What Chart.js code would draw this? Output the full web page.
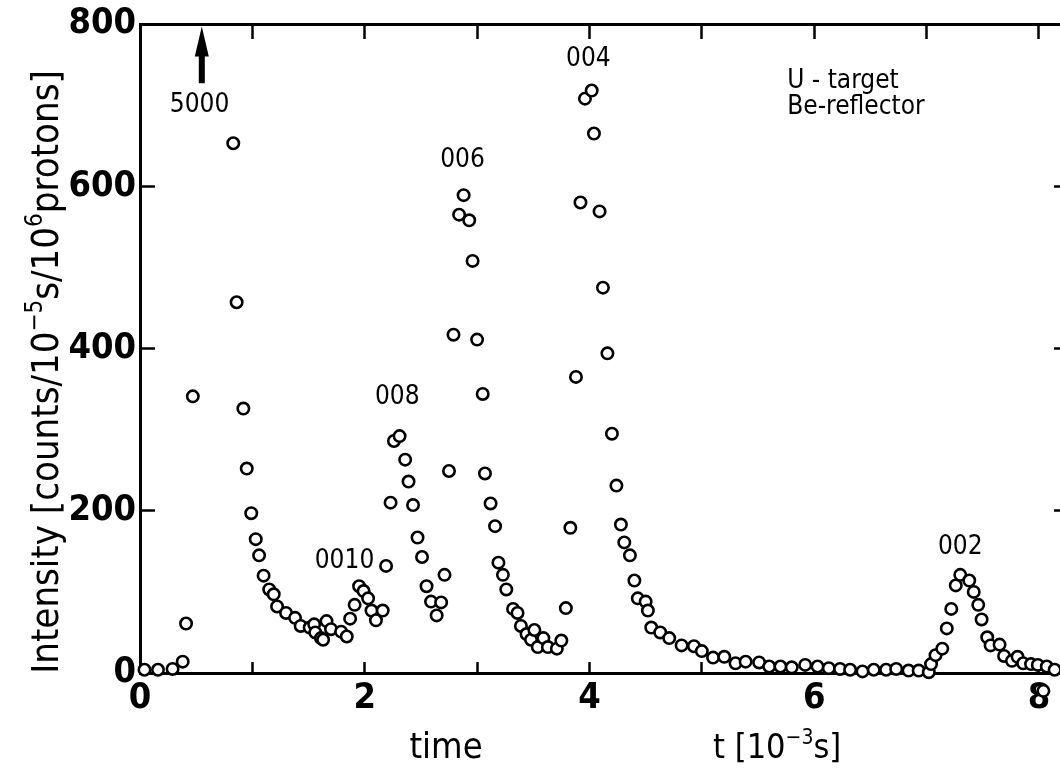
<!DOCTYPE html>
<html>
<head>
<meta charset="utf-8">
<script src="https://cdn.jsdelivr.net/npm/chart.js@4.4.1/dist/chart.umd.min.js"></script>
<style>
  html, body { margin: 0; padding: 0; background: #fff; overflow: hidden; }
  #wrap { width: 1060px; height: 773px; overflow: hidden; }
  canvas { display: block; }
</style>
</head>
<body>
<div id="wrap"><canvas id="spectrum" width="1080" height="773"></canvas></div>
<script>
// time of flight, 10^-3 s
const timeMs = [
  0.04, 0.16, 0.29, 0.38, 0.41, 0.47, 0.83, 0.86, 0.92, 0.95,
  0.99, 1.03, 1.06, 1.10, 1.15, 1.19, 1.22, 1.30, 1.38, 1.43,
  1.51, 1.55, 1.56, 1.61, 1.63, 1.66, 1.70, 1.79, 1.84, 1.87,
  1.91, 1.95, 1.99, 2.03, 2.06, 2.10, 2.16, 2.19, 2.23, 2.26,
  2.31, 2.36, 2.39, 2.43, 2.47, 2.51, 2.55, 2.59, 2.64, 2.68,
  2.71, 2.75, 2.79, 2.84, 2.88, 2.93, 2.96, 3.00, 3.05, 3.07,
  3.12, 3.16, 3.19, 3.23, 3.26, 3.32, 3.36, 3.39, 3.44, 3.48,
  3.51, 3.54, 3.59, 3.63, 3.71, 3.75, 3.79, 3.83, 3.88, 3.92,
  3.96, 4.02, 4.04, 4.09, 4.12, 4.16, 4.20, 4.24, 4.28, 4.31,
  4.36, 4.40, 4.43, 4.50, 4.52, 4.55, 4.63, 4.71, 4.82, 4.93,
  5.00, 5.10, 5.20, 5.30, 5.39, 5.51, 5.60, 5.70, 5.80, 5.92,
  6.03, 6.13, 6.23, 6.32, 6.43, 6.53, 6.64, 6.73, 6.84, 6.93,
  7.02, 7.04, 7.08, 7.14, 7.18, 7.22, 7.26, 7.30, 7.38, 7.42,
  7.46, 7.49, 7.54, 7.57, 7.65, 7.69, 7.76, 7.81, 7.86, 7.93,
  7.99, 8.04, 8.07, 8.14
];
// counts / 10^-5 s / 10^6 protons
const intensity = [
  4, 4, 5, 14, 61, 341, 653, 457, 326, 252,
  197, 165, 145, 120, 103, 97, 82, 74, 68, 58,
  56, 60, 50, 43, 41, 64, 54, 51, 45, 67,
  84, 107, 101, 92, 77, 65, 77, 132, 210, 286,
  292, 263, 236, 207, 167, 143, 107, 88, 71, 87,
  121, 249, 417, 565, 589, 558, 508, 411, 344, 246,
  209, 181, 136, 121, 103, 79, 74, 58, 48, 41,
  53, 32, 43, 32, 30, 40, 80, 179, 365, 580,
  708, 718, 665, 569, 475, 394, 295, 231, 183, 161,
  145, 114, 92, 88, 77, 56, 50, 43, 34, 33,
  27, 19, 20, 12, 14, 13, 8, 8, 7, 10,
  8, 6, 5, 4, 2, 4, 4, 5, 3, 3,
  1, 11, 22, 30, 55, 79, 108, 121, 114, 100,
  84, 66, 44, 34, 35, 21, 15, 20, 12, 11,
  10, -22, 8, 4
];

const xTicks = [0, 2, 4, 6, 8];
const yTicks = [0, 200, 400, 600, 800];

// reflection labels (x, y in data units)
const peakNames = ['5000', '0010', '008', '006', '004', '002'];
const peakX = [0.53, 1.82, 2.29, 2.87, 3.99, 7.30];
const peakY = [700, 138, 340, 632, 757, 155];

// off-scale first peak arrow
const arrowX = 0.55;
const arrowFrom = 727;
const arrowTo = 797;

const noteLines = ['U - target', 'Be-reflector'];
const noteX = 5.76;
const noteY = [730, 697];

const FONT_TXT = '"DejaVu Sans Condensed", "DejaVu Sans", sans-serif';

// draw a run of text pieces, [text, isSuperscript]
function drawRich(ctx, parts, size, x, y, centered) {
  const supSize = Math.round(size * 0.62);
  let total = 0;
  parts.forEach(p => {
    ctx.font = (p[1] ? supSize : size) + 'px ' + FONT_TXT;
    total += ctx.measureText(p[0]).width;
  });
  let cx = centered ? x - total / 2 : x;
  parts.forEach(p => {
    ctx.font = (p[1] ? supSize : size) + 'px ' + FONT_TXT;
    ctx.fillText(p[0], cx, p[1] ? y - size * 0.42 : y);
    cx += ctx.measureText(p[0]).width;
  });
}

// points that fall below the axis are skipped by Chart.js, draw them unclipped
const outsidePoints = {
  id: 'outsidePoints',
  afterDatasetsDraw(chart) {
    const meta = chart.getDatasetMeta(0);
    meta.data.forEach((pt, i) => {
      if (intensity[i] < 0) pt.draw(chart.ctx);
    });
  }
};

const annotations = {
  id: 'annotations',
  afterDraw(chart) {
    const ctx = chart.ctx;
    const xs = chart.scales.x, ys = chart.scales.y;
    ctx.save();
    ctx.fillStyle = '#000';
    ctx.textBaseline = 'middle';

    // peak labels
    ctx.textAlign = 'center';
    ctx.font = '26px ' + FONT_TXT;
    peakNames.forEach((n, i) => {
      ctx.fillText(n, xs.getPixelForValue(peakX[i]), ys.getPixelForValue(peakY[i]));
    });

    // target / reflector note
    ctx.textAlign = 'left';
    ctx.font = '26px ' + FONT_TXT;
    noteLines.forEach((t, i) => {
      ctx.fillText(t, xs.getPixelForValue(noteX), ys.getPixelForValue(noteY[i]));
    });

    // arrow
    const ax = xs.getPixelForValue(arrowX);
    const y0 = ys.getPixelForValue(arrowFrom);
    const y1 = ys.getPixelForValue(arrowTo);
    ctx.fillRect(ax - 3, y1 + 26, 6, y0 - y1 - 26);
    ctx.beginPath();
    ctx.moveTo(ax, y1);
    ctx.lineTo(ax - 7, y1 + 30);
    ctx.lineTo(ax + 7, y1 + 30);
    ctx.closePath();
    ctx.fill();

    // axis titles
    ctx.textBaseline = 'alphabetic';
    ctx.textAlign = 'left';
    ctx.save();
    ctx.translate(58, 372);
    ctx.rotate(-Math.PI / 2);
    drawRich(ctx, [['Intensity [counts/10', false], ['\u2212' + '5', true], ['s/10', false], ['6', true], ['protons]', false]], 38, 0, 0, true);
    ctx.restore();

    drawRich(ctx, [['time', false]], 36, 446, 758, true);
    drawRich(ctx, [['t [10', false], ['\u2212' + '3', true], ['s]', false]], 34, 713, 758, false);
    ctx.restore();
  }
};

const tickFont = { family: FONT_TXT, size: 36, weight: 'bold' };
const axisBorder = { display: true, color: '#000', width: 3 };
const noPad = s => { s.paddingTop = 0; s.paddingBottom = 0; s.paddingLeft = 0; s.paddingRight = 0; };

new Chart(document.getElementById('spectrum'), {
  type: 'scatter',
  data: {
    datasets: [{
      data: timeMs.map((t, i) => ({ x: t, y: intensity[i] })),
      pointStyle: 'circle',
      pointRadius: 5.7,
      pointBorderWidth: 2.6,
      borderColor: '#000',
      backgroundColor: '#fff',
      clip: false
    }]
  },
  options: {
    responsive: false,
    animation: false,
    events: [],
    layout: { padding: 0 },
    plugins: { legend: { display: false }, tooltip: { enabled: false } },
    scales: {
      x: {
        type: 'linear', position: 'bottom', min: 0, max: 8.25,
        afterFit: s => { s.height = 100; noPad(s); },
        ticks: {
          stepSize: 1, includeBounds: false, autoSkip: false, maxRotation: 0, color: '#000', font: tickFont, padding: 15,
          callback: v => xTicks.includes(v) ? String(v) : ''
        },
        grid: { drawOnChartArea: false, tickLength: -11, tickWidth: 2.5, tickColor: '#000' },
        border: axisBorder
      },
      xTop: {
        type: 'linear', position: 'top', min: 0, max: 8.25,
        afterFit: s => { s.height = 24; noPad(s); },
        ticks: { stepSize: 1, includeBounds: false, autoSkip: false, maxRotation: 0, font: { size: 1 }, callback: () => '' },
        grid: { drawOnChartArea: false, tickLength: -15, tickWidth: 2.5, tickColor: '#000' },
        border: axisBorder
      },
      y: {
        type: 'linear', position: 'left', min: 0, max: 800,
        afterFit: s => { s.width = 140; noPad(s); },
        ticks: {
          stepSize: 200, color: '#000', font: tickFont, padding: 19,
          callback: v => yTicks.includes(v) ? String(v) : ''
        },
        grid: { drawOnChartArea: false, tickLength: -15, tickWidth: 2.5, tickColor: '#000' },
        border: axisBorder
      },
      yRight: {
        type: 'linear', position: 'right', min: 0, max: 800,
        afterFit: s => { s.width = 13; noPad(s); },
        ticks: { stepSize: 200, font: { size: 1 }, callback: () => '' },
        grid: { drawOnChartArea: false, tickLength: -13, tickWidth: 2.5, tickColor: '#000' },
        border: axisBorder
      }
    }
  },
  plugins: [outsidePoints, annotations]
});
</script>
</body>
</html>
